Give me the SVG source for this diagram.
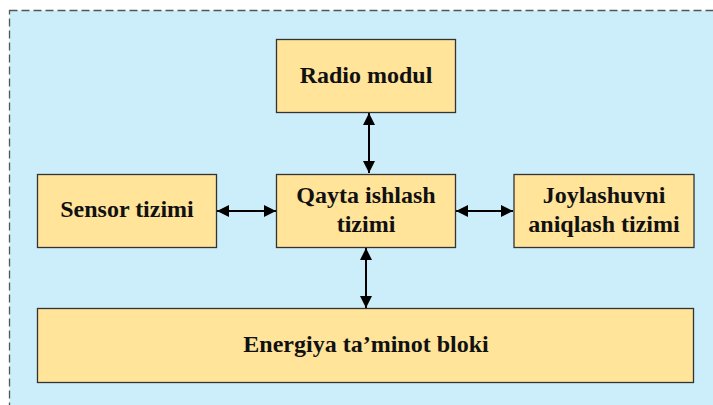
<svg xmlns="http://www.w3.org/2000/svg" width="713" height="405" viewBox="0 0 713 405">
<style>
.box{fill:#FFE49A;stroke:#333;stroke-width:1.3}
.t{font-family:"Liberation Serif","Times New Roman",serif;font-weight:bold;font-size:24px;fill:#111;text-anchor:middle}
.c{stroke:#000;stroke-width:2;fill:none;marker-start:url(#ah);marker-end:url(#ah)}
</style>
<defs>
<marker id="ah" viewBox="0 0 12 12" refX="12" refY="6" markerWidth="12" markerHeight="12" markerUnits="userSpaceOnUse" orient="auto-start-reverse">
<path d="M0,0 L12,6 L0,12 Z" fill="#000"/>
</marker>
</defs>
<rect x="9.5" y="10.5" width="720" height="410" fill="#CCEEFA" stroke="#555" stroke-width="1.3" stroke-dasharray="8,4"/>
<g id="connectors">
<line class="c" x1="369" y1="113" x2="369" y2="173"/>
<line class="c" x1="217" y1="211" x2="276" y2="211"/>
<line class="c" x1="456" y1="211" x2="513" y2="211"/>
<line class="c" x1="366" y1="248" x2="366" y2="308"/>
</g>
<g id="radio">
<rect class="box" x="276.5" y="39.5" width="179" height="73"/>
<text class="t" x="366" y="83">Radio modul</text>
</g>
<g id="sensor">
<rect class="box" x="37.5" y="174.5" width="179" height="73"/>
<text class="t" x="127" y="217">Sensor tizimi</text>
</g>
<g id="qayta">
<rect class="box" x="276.5" y="174.5" width="179" height="73"/>
<text class="t" x="366" y="203">Qayta ishlash</text>
<text class="t" x="366" y="232">tizimi</text>
</g>
<g id="joylashuv">
<rect class="box" x="514" y="174.5" width="180" height="73"/>
<text class="t" x="604" y="203">Joylashuvni</text>
<text class="t" x="604" y="232">aniqlash tizimi</text>
</g>
<g id="energiya">
<rect class="box" x="37.5" y="308.5" width="656" height="74"/>
<text class="t" x="366" y="352">Energiya ta’minot bloki</text>
</g>
</svg>
